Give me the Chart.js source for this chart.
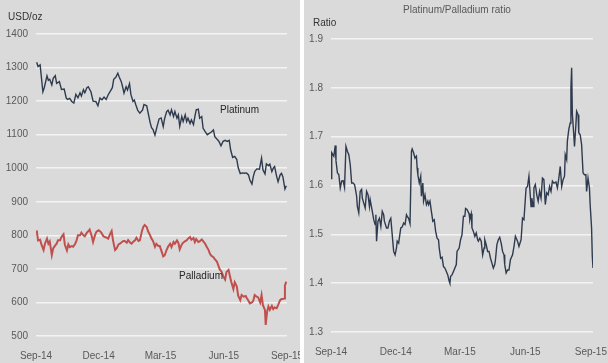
<!DOCTYPE html>
<html>
<head>
<meta charset="utf-8">
<script src="https://cdn.jsdelivr.net/npm/chart.js@4.4.1/dist/chart.umd.min.js"></script>
<style>
  html, body { margin: 0; padding: 0; background: #fff; }
  #wrap { position: relative; width: 608px; height: 363px; overflow: hidden; }
  .pane { position: absolute; top: 0; height: 363px; background: #dadada; }
  #pL { left: 0; width: 300px; }
  #pR { left: 304px; width: 304px; }
  canvas { display: block; }
</style>
</head>
<body>
<div id="wrap">
  <div class="pane" id="pL"><canvas id="cL" width="300" height="363"></canvas></div>
  <div class="pane" id="pR"><canvas id="cR" width="304" height="363"></canvas></div>
</div>
<script>
// x values are days since 1 Sep 2014
const tickDays = [0, 91, 181, 273, 365];
const tickLabels = ['Sep-14', 'Dec-14', 'Mar-15', 'Jun-15', 'Sep-15'];

// left panel: USD/oz
const ptDays = [1,3,6,10,12,16,18,20,23,25,28,30,34,37,41,44,46,49,52,55,58,61,64,66,69,71,74,76,80,83,87,90,93,96,99,102,105,109,111,113,116,119,121,124,126,128,131,133,136,138,141,143,145,148,151,155,157,161,163,166,168,170,173,176,179,182,185,187,190,192,195,197,200,202,205,207,209,212,214,217,219,221,224,226,229,231,233,236,238,241,243,246,249,252,255,258,260,264,266,269,272,275,278,281,283,286,289,292,294,297,300,303,306,309,311,314,316,318,321,325,328,330,333,335,338,340,343,345,347,350,352,355,357,359,362,364];
const ptPrice = [1316,1303,1308,1228,1240,1275,1262,1265,1248,1268,1276,1253,1258,1235,1236,1209,1205,1208,1199,1194,1220,1210,1225,1215,1234,1225,1240,1243,1227,1200,1199,1186,1209,1204,1212,1205,1219,1233,1240,1265,1271,1283,1272,1258,1242,1224,1243,1233,1252,1220,1199,1203,1190,1172,1164,1174,1190,1186,1166,1136,1121,1116,1099,1124,1147,1150,1124,1148,1169,1173,1159,1174,1154,1169,1149,1159,1125,1154,1139,1159,1139,1149,1133,1144,1130,1154,1174,1176,1149,1154,1119,1109,1100,1104,1108,1114,1094,1085,1080,1067,1080,1083,1080,1083,1055,1032,1035,1026,1002,984,986,985,986,980,965,953,975,990,998,997,1030,995,983,1013,1008,1012,990,1000,1005,975,960,980,985,975,938,948];

const pdDays = [1,3,6,8,11,13,16,18,20,23,25,28,30,32,35,37,40,42,45,47,49,52,54,57,59,61,64,66,69,71,74,76,78,81,83,86,88,91,93,95,98,100,103,105,108,110,112,115,117,120,122,125,127,129,132,134,137,139,141,144,146,149,151,154,156,158,161,163,166,168,170,173,175,178,180,183,185,187,190,192,195,197,200,202,205,207,209,212,214,217,219,221,224,226,229,231,233,236,238,241,243,246,248,251,253,255,258,260,263,265,267,270,272,275,277,280,282,284,287,289,292,294,297,299,302,305,306,309,311,314,316,318,321,323,326,328,330,333,334,336,338,340,343,345,347,350,352,355,357,359,361,362,364];
const pdPrice = [815,785,787,772,756,775,790,775,782,741,761,770,775,785,785,795,803,772,755,773,765,768,766,775,785,800,800,808,800,797,808,812,817,798,780,802,811,815,812,808,797,795,793,790,805,813,785,756,760,773,775,780,783,783,778,786,778,775,780,785,793,783,785,812,825,831,825,812,800,790,784,766,775,768,768,750,737,740,757,766,775,765,780,775,785,778,758,773,778,783,785,790,795,787,792,780,789,780,782,788,783,775,767,756,745,739,735,729,722,711,699,691,679,668,691,697,679,661,640,660,648,620,607,622,617,619,615,605,597,600,605,622,617,615,600,622,592,577,533,572,588,578,590,580,585,583,592,607,610,610,612,651,662];

// right panel: platinum/palladium ratio
const ratioDays = [0,1,4,6,7,9,11,13,15,17,19,21,23,25,27,29,31,33,34,36,37,39,41,43,44,46,48,50,52,54,55,58,60,62,63,64,66,68,70,72,74,75,78,80,82,84,86,88,90,92,93,95,98,100,102,104,106,107,109,111,113,114,116,118,120,121,122,124,126,127,129,130,132,134,136,137,139,141,143,145,147,149,151,152,154,156,158,160,162,164,166,167,168,170,172,174,176,177,180,182,184,186,188,189,191,194,195,197,198,200,202,204,206,207,209,211,213,215,216,218,220,222,224,226,228,230,231,233,235,237,239,241,243,244,246,248,250,252,255,257,259,262,264,267,269,271,274,276,278,281,282,284,285,287,289,291,293,295,297,299,301,303,305,307,309,311,313,316,318,320,322,324,326,328,329,331,332,334,336,337,338,339,341,342,344,345,347,348,350,352,354,356,358,359,361,363,364,366,367,368];
const ratioVals = [1.614,1.667,1.660,1.682,1.651,1.626,1.622,1.595,1.609,1.610,1.596,1.680,1.670,1.663,1.643,1.605,1.605,1.602,1.595,1.578,1.557,1.544,1.588,1.592,1.574,1.564,1.554,1.588,1.581,1.557,1.571,1.547,1.530,1.520,1.540,1.486,1.527,1.533,1.516,1.547,1.540,1.527,1.513,1.513,1.527,1.533,1.499,1.465,1.458,1.472,1.486,1.482,1.513,1.515,1.523,1.520,1.540,1.537,1.533,1.522,1.670,1.675,1.667,1.656,1.660,1.636,1.622,1.605,1.619,1.578,1.605,1.568,1.581,1.561,1.568,1.561,1.568,1.547,1.527,1.530,1.506,1.492,1.489,1.472,1.451,1.453,1.434,1.431,1.424,1.417,1.404,1.400,1.414,1.417,1.424,1.431,1.438,1.465,1.472,1.489,1.499,1.537,1.537,1.553,1.551,1.542,1.530,1.542,1.513,1.506,1.496,1.503,1.489,1.486,1.492,1.486,1.458,1.472,1.489,1.479,1.465,1.465,1.451,1.441,1.431,1.438,1.448,1.479,1.489,1.494,1.482,1.465,1.458,1.438,1.421,1.427,1.427,1.448,1.458,1.475,1.496,1.486,1.475,1.489,1.533,1.530,1.595,1.598,1.619,1.557,1.574,1.557,1.595,1.602,1.581,1.568,1.588,1.574,1.615,1.612,1.561,1.585,1.581,1.598,1.588,1.609,1.605,1.607,1.595,1.615,1.639,1.598,1.612,1.619,1.663,1.653,1.691,1.715,1.728,1.800,1.841,1.746,1.704,1.680,1.725,1.752,1.745,1.708,1.704,1.684,1.626,1.622,1.622,1.588,1.615,1.595,1.561,1.513,1.455,1.431];

const toXY = (xs, ys) => xs.map((d, i) => ({ x: d, y: ys[i] }));

Chart.defaults.font.family = '"Liberation Sans", Arial, sans-serif';
Chart.defaults.font.size = 10;
Chart.defaults.color = '#595959';

// fixed axis sizes, and no extra padding for labels hanging over the edges
const fixSize = (w, h) => s => {
  if (w != null) s.width = w;
  if (h != null) s.height = h;
  s.paddingLeft = s.paddingRight = s.paddingTop = s.paddingBottom = 0;
};

// free text: axis unit, title, series names
const textPlugin = {
  id: 'texts',
  afterDraw(chart, args, opts) {
    const { ctx, scales: { x, y } } = chart;
    ctx.save();
    ctx.textBaseline = 'middle';
    (opts.items || []).forEach(t => {
      ctx.font = '10px "Liberation Sans", Arial, sans-serif';
      ctx.fillStyle = t.color || '#262626';
      ctx.textAlign = t.align || 'left';
      const px = t.day != null ? x.getPixelForValue(t.day) : t.px;
      const py = t.value != null ? y.getPixelForValue(t.value) : t.py;
      ctx.fillText(t.text, px, py);
    });
    ctx.restore();
  }
};

const xAxis = (max, h) => ({
  type: 'linear', min: 0, max: max,
  grid: { display: false }, border: { display: false },
  afterBuildTicks: s => { s.ticks = tickDays.map(v => ({ value: v })); },
  afterFit: fixSize(null, h),
  ticks: { autoSkip: false, maxRotation: 0, padding: 6, color: '#595959',
           callback: v => tickLabels[tickDays.indexOf(v)] }
});

const yGrid = { color: '#f3f3f3', lineWidth: 1.5, drawTicks: false };

new Chart(document.getElementById('cL'), {
  type: 'line',
  data: { datasets: [
    { data: toXY(ptDays, ptPrice), borderColor: '#2e3b4e', borderWidth: 1.4, pointRadius: 0 },
    { data: toXY(pdDays, pdPrice), borderColor: '#c0504d', borderWidth: 2, pointRadius: 0 }
  ]},
  options: {
    responsive: false, animation: false,
    layout: { padding: { left: 0, right: 13, top: 34, bottom: 0 } },
    plugins: { legend: { display: false }, tooltip: { enabled: false },
      texts: { items: [
        { text: 'USD/oz', px: 8, py: 17, color: '#333333' },
        { text: 'Platinum', day: 296, value: 1174, align: 'center' },
        { text: 'Palladium', day: 240, value: 677, align: 'center' }
      ]}
    },
    scales: {
      x: xAxis(365, 27),
      y: { min: 500, max: 1400, border: { display: false }, grid: yGrid,
           afterFit: fixSize(36, null),
           ticks: { stepSize: 100, padding: 8, color: '#595959', callback: v => String(v) } }
    }
  },
  plugins: [textPlugin]
});

new Chart(document.getElementById('cR'), {
  type: 'line',
  data: { datasets: [
    { data: toXY(ratioDays, ratioVals), borderColor: '#2e3b4e', borderWidth: 1.4, pointRadius: 0 }
  ]},
  options: {
    responsive: false, animation: false,
    layout: { padding: { left: 0, right: 15, top: 39, bottom: 0 } },
    plugins: { legend: { display: false }, tooltip: { enabled: false },
      texts: { items: [
        { text: 'Platinum/Palladium ratio', px: 153, py: 10, align: 'center', color: '#595959' },
        { text: 'Ratio', px: 9, py: 23, color: '#333333' }
      ]}
    },
    scales: {
      x: xAxis(368, 31),
      y: { min: 1.3, max: 1.9, border: { display: false }, grid: yGrid,
           afterFit: fixSize(27, null),
           ticks: { stepSize: 0.1, padding: 8, color: '#595959', callback: v => v.toFixed(1) } }
    }
  },
  plugins: [textPlugin]
});
</script>
</body>
</html>
